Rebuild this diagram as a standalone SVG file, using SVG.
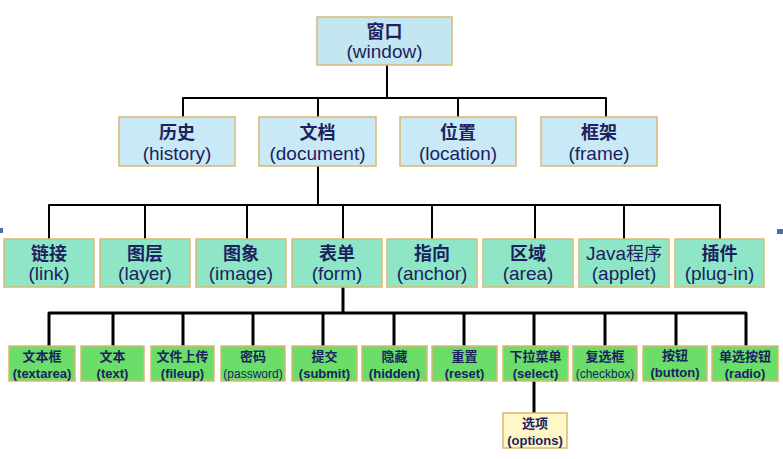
<svg xmlns="http://www.w3.org/2000/svg" width="783" height="459" viewBox="0 0 783 459">
<style>
.b{stroke:#D9B870;stroke-width:1.5}
.l0{fill:#C4E6F1}
.l1{fill:#C9E9F6}
.l2{fill:#8FE6C6}
.l3{fill:#6ADE68}
.l4{fill:#FFF7C6}
text{fill:#1C2260;text-anchor:middle;font-family:"Liberation Sans","Noto Sans CJK SC",sans-serif}
.zh{font-family:"Noto Sans CJK SC",sans-serif;font-weight:bold;font-size:18px}
.en{font-size:19px}
.zs{font-family:"Noto Sans CJK SC",sans-serif;font-weight:bold;font-size:13px}
.es{font-size:13px;font-weight:bold}
.et{font-size:12px}
.c{fill:none;stroke:#000;stroke-linejoin:round}
</style>
<rect width="783" height="459" fill="#FFFFFF"/>
<rect x="0" y="228" width="3" height="5" fill="#4A6FB0"/>
<rect x="777" y="229" width="6" height="5" fill="#4A6FB0"/>
<g id="connectors">
<path class="c" stroke-width="2" d="M387 65V98M183 117V98H606V117M318 98V117M458 98V117"/>
<path class="c" stroke-width="2" d="M318 166V205M49 239V205H720V239M145 205V239M247 205V239M343 205V239M432 205V239M535 205V239M624 205V239"/>
<path class="c" stroke-width="3" d="M343 287V313M49 346V313H746V346M113 313V346M183 313V346M253 313V346M323 313V346M394 313V346M464 313V346M534 313V346M605 313V346M676 313V346"/>
<path class="c" stroke-width="3" d="M534 381V413"/>
</g>
<g id="window"><rect class="b l0" x="317" y="17" width="135" height="48"/><text class="zh" x="384.5" y="38">窗口</text><text class="en" x="384.5" y="58">(window)</text></g>
<g id="history"><rect class="b l1" x="119" y="117" width="116" height="49"/><text class="zh" x="177" y="139">历史</text><text class="en" x="177" y="160">(history)</text></g>
<g id="document"><rect class="b l1" x="259" y="117" width="117" height="49"/><text class="zh" x="317.5" y="139">文档</text><text class="en" x="317.5" y="160">(document)</text></g>
<g id="location"><rect class="b l1" x="400" y="117" width="116" height="49"/><text class="zh" x="458" y="139">位置</text><text class="en" x="458" y="160">(location)</text></g>
<g id="frame"><rect class="b l1" x="541" y="117" width="116" height="49"/><text class="zh" x="599" y="139">框架</text><text class="en" x="599" y="160">(frame)</text></g>
<g id="link"><rect class="b l2" x="4" y="239" width="90" height="48"/><text class="zh" x="49" y="260">链接</text><text class="en" x="49" y="280">(link)</text></g>
<g id="layer"><rect class="b l2" x="100" y="239" width="90" height="48"/><text class="zh" x="145" y="260">图层</text><text class="en" x="145" y="280">(layer)</text></g>
<g id="image"><rect class="b l2" x="196" y="239" width="90" height="48"/><text class="zh" x="241" y="260">图象</text><text class="en" x="241" y="280">(image)</text></g>
<g id="form"><rect class="b l2" x="292" y="239" width="90" height="48"/><text class="zh" x="337" y="260">表单</text><text class="en" x="337" y="280">(form)</text></g>
<g id="anchor"><rect class="b l2" x="387" y="239" width="90" height="48"/><text class="zh" x="432" y="260">指向</text><text class="en" x="432" y="280">(anchor)</text></g>
<g id="area"><rect class="b l2" x="483" y="239" width="90" height="48"/><text class="zh" x="528" y="260">区域</text><text class="en" x="528" y="280">(area)</text></g>
<g id="applet"><rect class="b l2" x="579" y="239" width="90" height="48"/><text class="en" x="624" y="260">Java<tspan class="zh" style="font-weight:normal">程序</tspan></text><text class="en" x="624" y="280">(applet)</text></g>
<g id="plugin"><rect class="b l2" x="675" y="239" width="89" height="48"/><text class="zh" x="719.5" y="260">插件</text><text class="en" x="719.5" y="280">(plug-in)</text></g>
<g id="textarea"><rect class="b l3" x="9" y="346" width="66" height="35"/><text class="zs" x="42" y="361">文本框</text><text class="es" x="42" y="378">(textarea)</text></g>
<g id="text"><rect class="b l3" x="81" y="346" width="63" height="35"/><text class="zs" x="112.5" y="361">文本</text><text class="es" x="112.5" y="378">(text)</text></g>
<g id="fileup"><rect class="b l3" x="151" y="346" width="63" height="35"/><text class="zs" x="182.5" y="361">文件上传</text><text class="es" x="182.5" y="378">(fileup)</text></g>
<g id="password"><rect class="b l3" x="221" y="346" width="64" height="35"/><text class="zs" x="253" y="361">密码</text><text class="et" x="253" y="378">(password)</text></g>
<g id="submit"><rect class="b l3" x="292" y="346" width="65" height="35"/><text class="zs" x="324.5" y="361">提交</text><text class="es" x="324.5" y="378">(submit)</text></g>
<g id="hidden"><rect class="b l3" x="362" y="346" width="65" height="35"/><text class="zs" x="394.5" y="361">隐藏</text><text class="es" x="394.5" y="378">(hidden)</text></g>
<g id="reset"><rect class="b l3" x="432" y="346" width="65" height="35"/><text class="zs" x="464.5" y="361">重置</text><text class="es" x="464.5" y="378">(reset)</text></g>
<g id="select"><rect class="b l3" x="503" y="346" width="65" height="35"/><text class="zs" x="535.5" y="361">下拉菜单</text><text class="es" x="535.5" y="378">(select)</text></g>
<g id="checkbox"><rect class="b l3" x="573" y="346" width="64" height="35"/><text class="zs" x="605" y="361">复选框</text><text class="et" x="605" y="378">(checkbox)</text></g>
<g id="button"><rect class="b l3" x="643" y="346" width="64" height="35"/><text class="zs" x="675" y="360">按钮</text><text class="es" x="675" y="377">(button)</text></g>
<g id="radio"><rect class="b l3" x="712" y="346" width="66" height="35"/><text class="zs" x="745" y="361">单选按钮</text><text class="es" x="745" y="378">(radio)</text></g>
<g id="options"><rect class="b l4" x="503" y="413" width="64" height="35"/><text class="zs" x="535" y="428">选项</text><text class="es" x="535" y="445">(options)</text></g>
</svg>
